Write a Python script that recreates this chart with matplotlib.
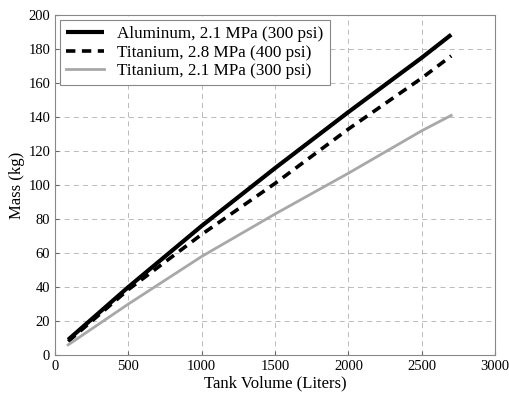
import matplotlib.pyplot as plt

# tank volume (liters) and mass (kg)
volume = [90, 500, 1000, 1500, 2000, 2500, 2700]
mass_al_300 = [9, 40, 76, 110, 143, 175, 188.5]
mass_ti_400 = [8, 38.5, 71, 101, 133, 163, 176]
mass_ti_300 = [6, 30, 58, 83, 107, 132, 141]

labels = ["Aluminum, 2.1 MPa (300 psi)",
          "Titanium, 2.8 MPa (400 psi)",
          "Titanium, 2.1 MPa (300 psi)"]

plt.rcParams['font.family'] = ['Liberation Serif', 'DejaVu Serif']

fig = plt.figure(figsize=(5.09, 3.98), dpi=100)
ax = fig.add_axes([0.108, 0.108, 0.865, 0.854])

ax.plot(volume, mass_al_300, color='black', lw=3.0, solid_capstyle='butt', label=labels[0])
ax.plot(volume, mass_ti_400, color='black', lw=2.6, linestyle=(0, (2.6, 1.8)), label=labels[1])
ax.plot(volume, mass_ti_300, color='#a8a8a8', lw=2.0, label=labels[2])

ax.set_xlim(0, 3000)
ax.set_ylim(0, 200)
ax.set_xticks(range(0, 3001, 500))
ax.set_yticks(range(0, 201, 20))
ax.grid(True, color='#b0b0b0', linestyle=(0, (6, 5)), lw=0.6)
ax.tick_params(direction='in', labelsize=10.5, length=3, color='#666666')
for s in ax.spines.values():
    s.set_color('#888888')
    s.set_linewidth(0.8)

ax.set_xlabel("Tank Volume (Liters)", fontsize=12, labelpad=2)
ax.set_ylabel("Mass (kg)", fontsize=12, labelpad=2)

leg = ax.legend(loc='upper left', fontsize=12.3, handlelength=2.2, handletextpad=0.8,
                borderpad=0.35, labelspacing=0.15, fancybox=False, framealpha=1,
                borderaxespad=0.3)
leg.get_frame().set_edgecolor('#888888')
leg.get_frame().set_linewidth(0.8)

fig.savefig('out.png', dpi=100)
